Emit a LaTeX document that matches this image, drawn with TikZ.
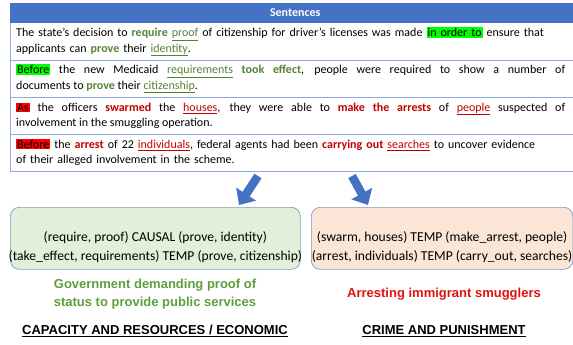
\documentclass[tikz,border=0pt]{standalone}
\usepackage{fontspec}
\setmainfont{Carlito}
\newfontfamily\labelfont{Liberation Sans}
\usepackage{xcolor}
\usetikzlibrary{arrows.meta,positioning,calc}

\definecolor{headblue}{HTML}{4472C4}
\definecolor{ruleblue}{HTML}{8FAADC}
\definecolor{predgreen}{HTML}{548235}
\definecolor{predred}{HTML}{C00000}
\definecolor{hlgreen}{HTML}{00FF00}
\definecolor{hlred}{HTML}{FF0000}
\definecolor{boxgreen}{HTML}{E2EFDA}
\definecolor{boxorange}{HTML}{FBE5D6}
\definecolor{boxedge}{HTML}{7F98C4}
\definecolor{labgreen}{HTML}{5E9E3B}
\definecolor{labred}{HTML}{E01010}

\setlength{\fboxsep}{1pt}
\newcommand{\hlg}[1]{\colorbox{hlgreen}{#1}}
\newcommand{\hlr}[1]{\colorbox{hlred}{#1}}
\newcommand{\pg}[1]{\textbf{\color{predgreen}#1}}
\newcommand{\ag}[1]{{\color{predgreen}\underline{#1}}}
\newcommand{\pr}[1]{\textbf{\color{predred}#1}}
\newcommand{\ar}[1]{{\color{predred}\underline{#1}}}

\begin{document}
\begin{tikzpicture}[x=1pt, y=-1pt, >=Latex]
\tikzset{
head/.style     = {fill=headblue, text=white, font=\fontsize{12}{14}\selectfont\bfseries, minimum width=570pt, minimum height=20.5pt, inner sep=0pt, anchor=north west},
row/.style      = {text width=549pt, inner xsep=6pt, inner ysep=0pt, minimum height=36.5pt, font=\fontsize{12}{15.5}\selectfont, anchor=north west},
rowl/.style     = {row, align=left},
rowj/.style     = {row, align=justify},
rule/.style     = {draw=ruleblue, line width=0.8pt},
box/.style      = {draw=boxedge, line width=0.7pt, rounded corners=9pt, anchor=north west, minimum height=62pt},
boxtext/.style  = {align=center, font=\fontsize{13.6}{19}\selectfont},
label/.style    = {align=center, font=\labelfont\fontsize{13}{17.5}\selectfont\bfseries},
bigarrow/.style = {draw=headblue, line width=8.5pt, -{Triangle[width=23pt,length=13pt]}, headblue},
}
    \useasboundingbox (0,0) rectangle (573,345);

    % Table nodes
    \node [head] (head) at (10,2.5) {Sentences};
    \node [rowl] (row1) at (head.south west)
        {The state's decision to \pg{require} \ag{proof} of citizenship for driver's licenses was made \hlg{in order to} ensure that\\
         applicants can \pg{prove} their \ag{identity}.};
    \node [rowj] (row2) at (row1.south west)
        {\hlg{Before} the new Medicaid \ag{requirements} \pg{took effect}, people were required to show a number of\linebreak
         documents to \pg{prove} their \ag{citizenship}.};
    \node [rowj] (row3) at (row2.south west)
        {\hlr{As} the officers \pr{swarmed} the \ar{houses}, they were able to \pr{make the arrests} of \ar{people} suspected of\linebreak
         involvement in the smuggling operation.};
    \node [rowl] (row4) at (row3.south west)
        {\hlr{Before} the \pr{arrest} of 22 \ar{individuals}, federal agents had been \pr{carrying out} \ar{searches} to uncover evidence\\
         of their alleged involvement in the scheme.};
    \coordinate (edge) at (573,0);

    % Table rules
    \draw [rule] (head.south west) -- (row4.south west);
    \foreach \r in {row1,row2,row3,row4}
        \draw [rule] (\r.south west) -- (\r.south west -| edge);

    % Arrows
    \coordinate (arrL_from) at (258,176);
    \coordinate (arrL_to)   at (239,205);
    \coordinate (arrR_from) at (352,176);
    \coordinate (arrR_to)   at (368,205);
    \draw [bigarrow] (arrL_from) -- (arrL_to);
    \draw [bigarrow] (arrR_from) -- (arrR_to);

    % Box nodes
    \node [box, fill=boxgreen, minimum width=290pt]    (gbox) at (10,207) {};
    \node [box, fill=boxorange, minimum width=261.5pt] (obox) at (311,207) {};
    \node [boxtext] (gtext) at ([yshift=-9pt]gbox.center)
        {(require, proof) CAUSAL (prove, identity)\\(take\_effect, requirements) TEMP (prove, citizenship)};
    \node [boxtext] (otext) at ([yshift=-9pt]obox.center)
        {(swarm, houses) TEMP (make\_arrest, people)\\(arrest, individuals) TEMP (carry\_out, searches)};

    % Label nodes
    \node [label, text=labgreen] (glabel) at (155,294)
        {Government demanding proof of\\status to provide public services};
    \node [label, text=labred]   (olabel) at (444,294) {Arresting immigrant smugglers};
    \node [label] (gtopic) at (155,331) {\underline{CAPACITY AND RESOURCES / ECONOMIC}};
    \node [label] (otopic) at (444,331) {\underline{CRIME AND PUNISHMENT}};

\end{tikzpicture}
\end{document}
